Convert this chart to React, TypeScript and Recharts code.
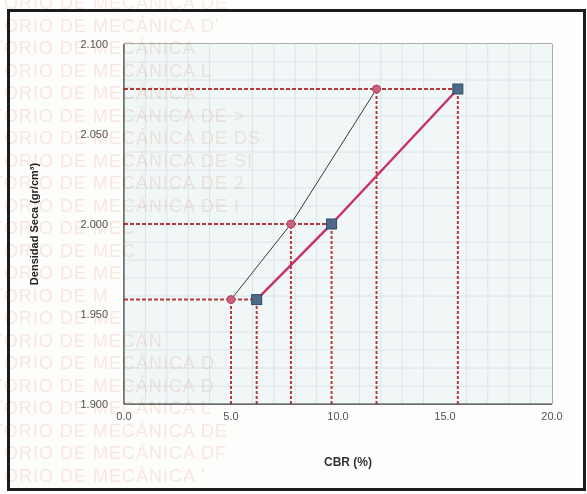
import { ComposedChart, Line, XAxis, YAxis, CartesianGrid, ReferenceLine, Label } from 'recharts'

// densidad seca vs CBR
const densidad = [1.958, 2.0, 2.075]
const cbrA = [5.0, 7.8, 11.8] // thin line, circles
const cbrB = [6.2, 9.7, 15.6] // thick line, squares

const xTicks = [0, 5, 10, 15, 20]
const yTicks = [1.9, 1.95, 2.0, 2.05, 2.1]
const xMinor = [1, 2, 3, 4, 6, 7, 8, 9, 11, 12, 13, 14, 16, 17, 18, 19]
const yMinor = [1.91, 1.92, 1.93, 1.94, 1.96, 1.97, 1.98, 1.99, 2.01, 2.02, 2.03, 2.04, 2.06, 2.07, 2.08, 2.09]

const watermark = [
  'ORIO DE MECÁNICA DE',
  'ORIO DE MECÁNICA D\'',
  'TORIO DE MECÁNICA ',
  'ORIO DE MECÁNICA L',
  'ORIO DE MECÁNICA',
  'TORIO DE MECÁNICA DE >',
  'ORIO DE MECÁNICA DE DS',
  'ORIO DE MECÁNICA DE SI',
  'TORIO DE MECÁNICA DE 2',
  'ORIO DE MECÁNICA DE I',
  'TORIO DE MEC',
  'ORIO DE MEC',
  'ORIO DE ME',
  'TORIO DE M',
  'ORIO DE ME',
  'TORIO DE MECAN',
  'ORIO DE MECÁNICA D',
  'TORIO DE MECÁNICA D',
  'TORIO DE MECÁNICA L',
  'TORIO DE MECÁNICA DE',
  'ORIO DE MECÁNICA DF',
  'ORIO DE MECÁNICA \'',
]

const seriesA = cbrA.map((c, i) => ({ cbr: c, dens: densidad[i] }))
const seriesB = cbrB.map((c, i) => ({ cbr: c, dens: densidad[i] }))

const Square = (props: any) => {
  const { cx, cy } = props
  if (cx == null || cy == null) return null
  return <rect x={cx - 5} y={cy - 5} width={10} height={10} fill="#4d6b88" stroke="#2f4a66" strokeWidth={1} />
}

const YLabel = (props: any) => {
  const vb = props.viewBox || {}
  const cy = vb.y + vb.height / 2
  return (
    <text x={38} y={cy} transform={`rotate(-90 38 ${cy})`} textAnchor="middle" fontSize={11} fontWeight="bold" fill="#222">
      Densidad Seca (gr/cm³)
    </text>
  )
}

export default function App() {
  return (
    <div style={{ position: 'absolute', left: 0, top: 0, width: 587, height: 494, background: '#fff', fontFamily: 'Arial, "Liberation Sans", sans-serif', overflow: 'hidden' }}>
      <div style={{ position: 'absolute', left: 7, top: 9, width: 579, height: 482, border: '3px solid #1c1c1c', boxSizing: 'border-box', background: '#fdfdfc' }} />
      <div style={{ position: 'absolute', left: 0, top: 0 }}>
        <ComposedChart width={587} height={494} margin={{ top: 44, right: 35, bottom: 60, left: 24 }}>
          <rect x={124} y={44} width={428} height={360} fill="#f1f7f7" />
          {xMinor.map(v => (
            <ReferenceLine key={'mx' + v} x={v} stroke="#dde4e6" strokeWidth={1} />
          ))}
          {yMinor.map(v => (
            <ReferenceLine key={'my' + v} y={v} stroke="#dde4e6" strokeWidth={1} />
          ))}
          <CartesianGrid stroke="#5a5a5a" strokeWidth={1} />
          <XAxis
            type="number"
            dataKey="cbr"
            domain={[0, 20]}
            ticks={xTicks}
            tickFormatter={(v: number) => v.toFixed(1)}
            tick={{ fontSize: 11, fill: '#555' }}
            tickLine={false}
            axisLine={{ stroke: '#333' }}
            height={30}
            allowDataOverflow
          >
            <Label value="CBR  (%)" position="insideBottom" offset={-32} dx={10} fontSize={12} fontWeight="bold" fill="#333" />
          </XAxis>
          <YAxis
            type="number"
            dataKey="dens"
            domain={[1.9, 2.1]}
            ticks={yTicks}
            tickFormatter={(v: number) => v.toFixed(3)}
            tick={{ fontSize: 11, fill: '#555' }}
            tickLine={false}
            axisLine={{ stroke: '#333' }}
            width={100}
            tickMargin={10}
            allowDataOverflow
          >
            <Label content={<YLabel />} />
          </YAxis>
          {densidad.map((d, i) => (
            <ReferenceLine
              key={'h' + i}
              segment={[{ x: 0, y: d }, { x: cbrB[i], y: d }]}
              stroke="#b8393a"
              strokeWidth={2}
              strokeDasharray="4 2"
            />
          ))}
          {densidad.map((d, i) => (
            <ReferenceLine
              key={'va' + i}
              segment={[{ x: cbrA[i], y: 1.9 }, { x: cbrA[i], y: d }]}
              stroke="#b8393a"
              strokeWidth={2}
              strokeDasharray="3 2"
            />
          ))}
          {densidad.map((d, i) => (
            <ReferenceLine
              key={'vb' + i}
              segment={[{ x: cbrB[i], y: 1.9 }, { x: cbrB[i], y: d }]}
              stroke="#b8393a"
              strokeWidth={2}
              strokeDasharray="3 2"
            />
          ))}
          <Line
            data={seriesA}
            dataKey="dens"
            type="linear"
            stroke="#3a3a3a"
            strokeWidth={1}
            dot={{ r: 4, fill: '#cf5f7e', stroke: '#b04466', strokeWidth: 1 }}
            isAnimationActive={false}
          />
          <Line
            data={seriesB}
            dataKey="dens"
            type="linear"
            stroke="#c8326c"
            strokeWidth={2.5}
            dot={<Square />}
            isAnimationActive={false}
          />
        </ComposedChart>
      </div>
      <div style={{ position: 'absolute', left: 0, top: -8, pointerEvents: 'none', mixBlendMode: 'multiply' }}>
        {watermark.map((t, i) => (
          <div key={i} style={{ position: 'absolute', left: t.startsWith('T') ? -8 : 4, top: i * 22.5, whiteSpace: 'pre', fontSize: 18, lineHeight: '22px', color: 'rgba(232,175,150,0.28)', letterSpacing: 1 }}>
            {t}
          </div>
        ))}
      </div>
    </div>
  )
}
